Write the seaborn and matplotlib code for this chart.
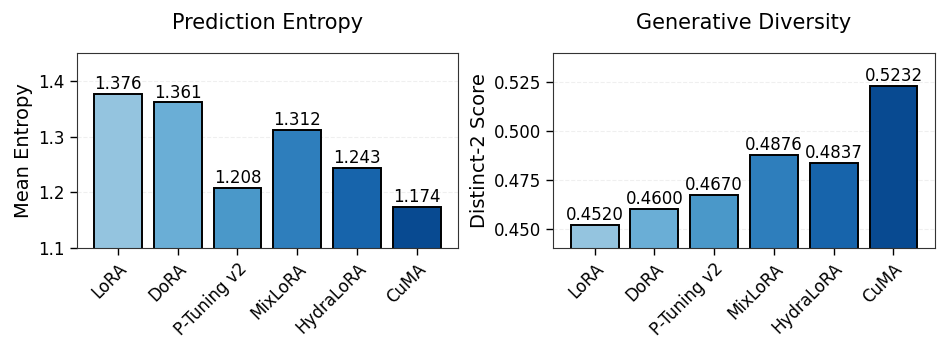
import numpy as np
import pandas as pd
import matplotlib
matplotlib.use("Agg")
import matplotlib.pyplot as plt
import seaborn as sns

methods = ["LoRA", "DoRA", "P-Tuning v2", "MixLoRA", "HydraLoRA", "CuMA"]
entropy = [1.376, 1.361, 1.208, 1.312, 1.243, 1.174]
distinct2 = [0.4520, 0.4600, 0.4670, 0.4876, 0.4837, 0.5232]

colors = plt.cm.Blues(np.linspace(0.4, 0.9, len(methods)))

sns.set_style("white")
plt.rcParams["font.family"] = ["DejaVu Sans"]
plt.rcParams["text.color"] = "black"
plt.rcParams["axes.labelcolor"] = "black"
plt.rcParams["xtick.color"] = "black"
plt.rcParams["ytick.color"] = "black"

fig, axes = plt.subplots(1, 2, figsize=(9.47, 3.52), dpi=100)


def draw(ax, values, title, ylabel, ylim, fmt, yticks):
    df = pd.DataFrame({"method": methods, "value": values})
    sns.barplot(data=df, x="method", y="value", hue="method", palette=list(colors),
                legend=False, ax=ax, edgecolor="black", linewidth=1.4, width=0.8,
                saturation=1)
    ax.set_xlim(-0.69, 5.69)
    ax.set_ylim(*ylim)
    ax.set_yticks(yticks)
    ax.set_title(title, fontsize=15, pad=17)
    ax.set_ylabel(ylabel, fontsize=14)
    ax.set_xlabel("")
    ax.tick_params(axis="both", labelsize=12, length=5, width=1, left=True, bottom=True)
    plt.setp(ax.get_xticklabels(), rotation=45, ha="right", rotation_mode="anchor")
    ax.grid(axis="y", linestyle="--", alpha=0.3)
    ax.set_axisbelow(True)
    for s in ax.spines.values():
        s.set_color("#333333")
    off = (ylim[1] - ylim[0]) * 0.005
    for i, v in enumerate(values):
        ax.text(i, v + off, fmt.format(v), ha="center", va="bottom", fontsize=12)


draw(axes[0], entropy, "Prediction Entropy", "Mean Entropy", (1.1, 1.45), "{:.3f}",
     [1.1, 1.2, 1.3, 1.4])
draw(axes[1], distinct2, "Generative Diversity", "Distinct-2 Score", (0.44, 0.54), "{:.4f}",
     [0.450, 0.475, 0.500, 0.525])

plt.subplots_adjust(left=0.081, right=0.987, bottom=0.295, top=0.85, wspace=0.25)
plt.savefig("out.png", dpi=100)
